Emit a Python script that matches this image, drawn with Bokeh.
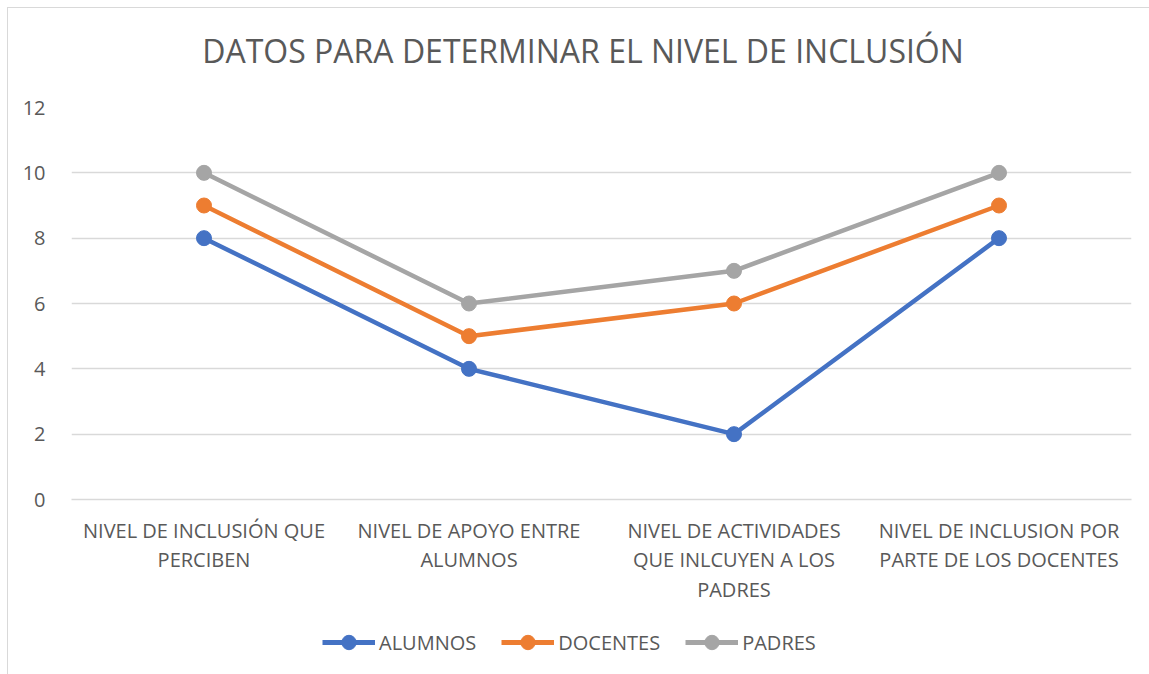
from bokeh.plotting import figure
from bokeh.models import FactorRange, Range1d, Legend, LegendItem, FixedTicker
from bokeh.core.properties import value
from bokeh.layouts import column
from bokeh.embed import file_html
from bokeh.resources import INLINE

title_text = "DATOS PARA DETERMINAR EL NIVEL DE INCLUSIÓN"
categories = [
    "NIVEL DE INCLUSIÓN QUE\nPERCIBEN",
    "NIVEL DE APOYO ENTRE\nALUMNOS",
    "NIVEL DE ACTIVIDADES\nQUE INLCUYEN A LOS\nPADRES",
    "NIVEL DE INCLUSION POR\nPARTE DE LOS DOCENTES",
]
alumnos = [8, 4, 2, 8]
docentes = [9, 5, 6, 9]
padres = [10, 6, 7, 10]
series_names = ["ALUMNOS", "DOCENTES", "PADRES"]
colors = ["#4472C4", "#ED7D31", "#A5A5A5"]
y_ticks = [0, 2, 4, 6, 8, 10, 12]

FONT = "Open Sans"
TXT = "#595959"
W = 1142

def strip(h):
    f = figure(width=W, height=h, x_range=Range1d(0, 1), y_range=Range1d(0, 1),
               output_backend="svg", toolbar_location=None,
               min_border_left=0, min_border_right=0, min_border_top=0, min_border_bottom=0)
    f.axis.visible = False
    f.grid.visible = False
    f.outline_line_color = None
    return f

# title strip
tt = strip(80)
tt.text(x=[0.4826], y=[0.48], text=[title_text], text_font=value(FONT),
        text_font_size="32px", text_color=TXT, text_align="center", text_baseline="middle")

# main chart
p = figure(width=W, height=523, x_range=FactorRange(*categories), y_range=Range1d(0, 12),
           output_backend="svg", toolbar_location=None,
           min_border_left=63, min_border_right=19, min_border_top=19, min_border_bottom=112)

for name, vals, c in zip(series_names, [alumnos, docentes, padres], colors):
    p.line(categories, vals, line_color=c, line_width=4.5)
    p.scatter(categories, vals, size=15, fill_color=c, line_color=c)

p.outline_line_color = None
p.xgrid.grid_line_color = None
p.ygrid.grid_line_color = "#D9D9D9"
p.ygrid.grid_line_width = 1.3
p.yaxis.ticker = FixedTicker(ticks=y_ticks)
p.yaxis.axis_line_color = None
p.yaxis.major_tick_line_color = None
p.yaxis.minor_tick_line_color = None
p.yaxis.major_label_text_font = FONT
p.yaxis.major_label_text_font_size = "20px"
p.yaxis.major_label_text_color = TXT
p.yaxis.major_label_standoff = 20

p.xaxis.axis_line_color = "#D9D9D9"
p.xaxis.axis_line_width = 1.3
p.xaxis.major_tick_line_color = None
p.xaxis.minor_tick_line_color = None
p.xaxis.major_label_text_font = FONT
p.xaxis.major_label_text_font_size = "20px"
p.xaxis.major_label_text_color = TXT
p.xaxis.major_label_text_line_height = 1.1
p.xaxis.major_label_standoff = 11
p.xaxis.major_label_orientation = "horizontal"

# legend strip below the chart (legend swatches only; their points lie outside the view)
lg = strip(64)
items = []
for name, c in zip(series_names, colors):
    l = lg.line([-10, -9], [-10, -10], line_color=c, line_width=5)
    s = lg.scatter([-10], [-10], size=15, fill_color=c, line_color=c)
    items.append(LegendItem(label=name, renderers=[l, s]))
legend = Legend(items=items, orientation="horizontal", location=(251, 15),
                label_text_font=FONT, label_text_font_size="20px", label_text_color=TXT,
                glyph_width=53, glyph_height=36, spacing=25, border_line_color=None,
                background_fill_alpha=0, label_standoff=4, margin=0, padding=4)
lg.add_layout(legend, "center")

layout = column(tt, p, lg, spacing=0,
                styles={"border": "1px solid #d9d9d9", "margin-left": "7px", "margin-top": "7px"})

open("out.html", "w").write(file_html(layout, INLINE))
